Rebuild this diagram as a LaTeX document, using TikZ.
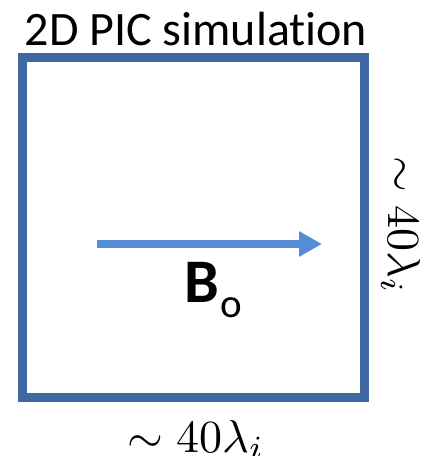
\documentclass[tikz,border=0pt]{standalone}
\usepackage{fontspec}
\newfontfamily\carlito[Ligatures=NoCommon]{Carlito}
\usetikzlibrary{arrows.meta}
\definecolor{boxblue}{HTML}{4069A4}
\definecolor{arrowblue}{HTML}{568CD4}
\tikzset{
  simbox/.style={draw=boxblue, line width=9pt, inner sep=0pt, minimum width=341.5pt, minimum height=340pt},
  field/.style={draw=arrowblue, line width=8pt, -{Triangle[length=23pt,width=24pt]}},
  mathlabel/.style={inner sep=0pt, font=\normalsize, scale=4.6},
}
\begin{document}
\begin{tikzpicture}[x=1pt,y=-1pt]
\useasboundingbox (0,0) rectangle (431,456);
\node[simbox] (box) at (193.25,227) {};
\node[anchor=base, inner sep=0pt, font=\carlito\fontsize{48}{52}\selectfont] (title) at (196,45) {2D PIC simulation};
\coordinate (a1) at (97,244);
\coordinate (a2) at (322,244);
\draw[field] (a1) -- (a2);
\node[anchor=base west, inner sep=0pt, font=\carlito\bfseries\fontsize{62}{66}\selectfont] (B) at (184,302) {B};
\node[anchor=base west, inner sep=0pt, font=\carlito\fontsize{41}{44}\selectfont] (o) at (B.base east) [yshift=-15pt, xshift=1pt] {o};
\node[mathlabel, anchor=base, rotate=-90] (right) at (388,225) {$\sim 40\lambda_i$};
\node[mathlabel, anchor=base] (bottom) at (196,452) {$\sim 40\lambda_i$};
\end{tikzpicture}
\end{document}
